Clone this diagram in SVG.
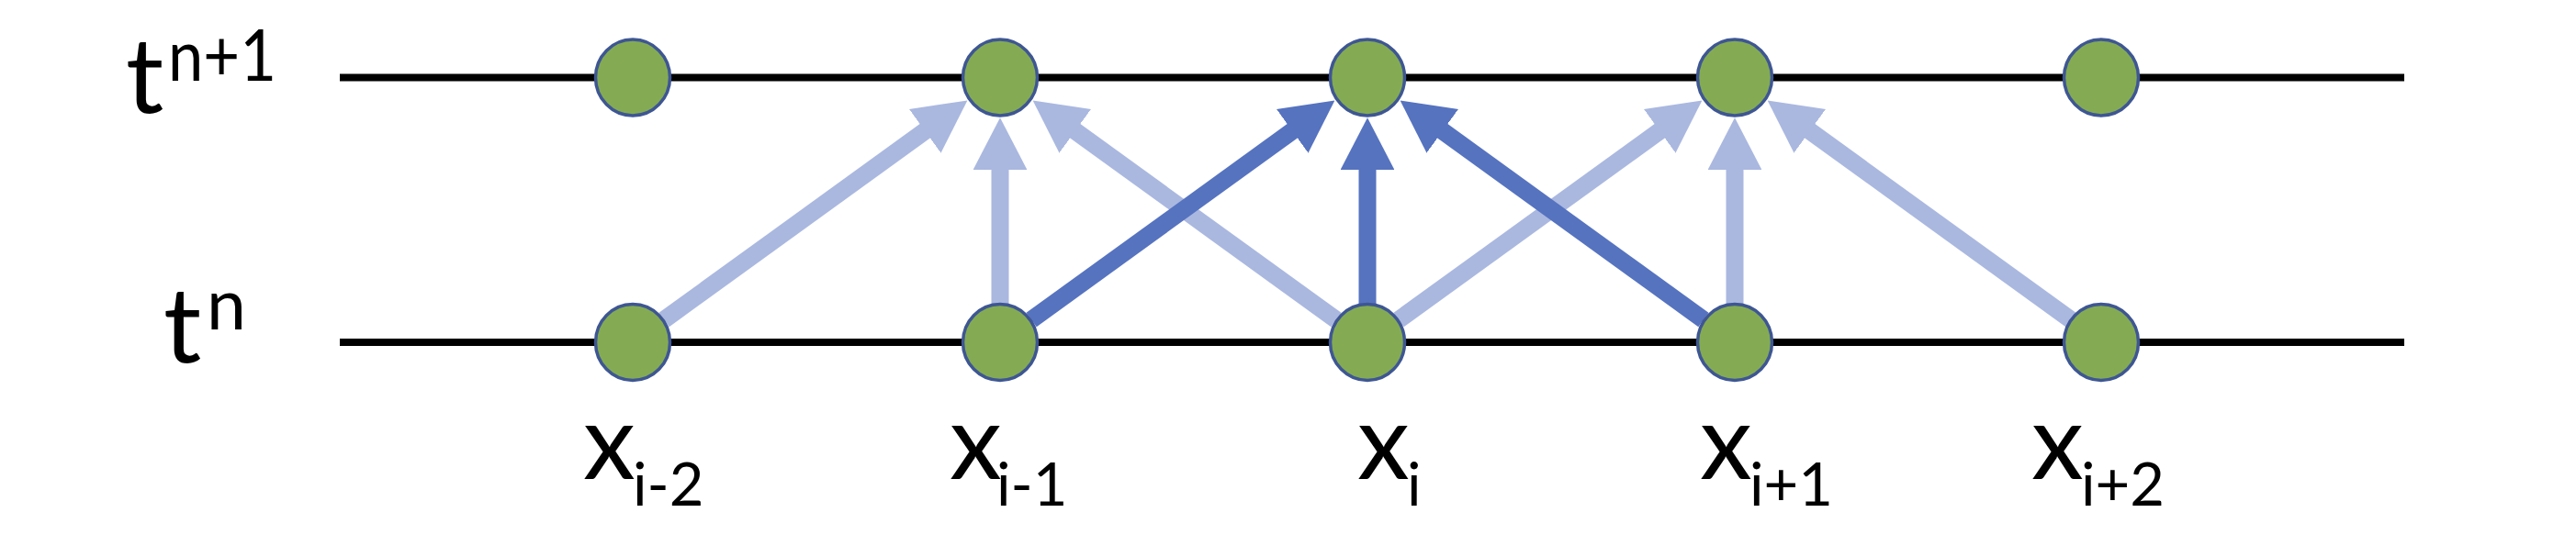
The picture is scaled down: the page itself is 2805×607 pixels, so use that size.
<svg xmlns="http://www.w3.org/2000/svg" width="2805" height="607" viewBox="0 0 2805 607">
<style>
  .axis { stroke: #000; stroke-width: 8; fill: none; }
  .node { fill: #84AB53; stroke: #3E5693; stroke-width: 3.5; }
  .light { stroke: #AAB8E0; stroke-width: 19; fill: none; marker-end: url(#headLight); }
  .dark { stroke: #5673C0; stroke-width: 19; fill: none; marker-end: url(#headDark); }
  .lbl { font-family: Lato, "Liberation Sans", sans-serif; fill: #000; }
  .main { font-size: 114px; }
  .tmain { font-size: 115px; }
  .sup { font-size: 77px; }
  .sub { font-size: 65px; }
</style>
<defs>
  <marker id="headLight" viewBox="0 0 10 10" refX="0.3" refY="5" markerWidth="3" markerHeight="3.1" markerUnits="strokeWidth" orient="auto" preserveAspectRatio="none">
    <path d="M0,0 L10,5 L0,10 Z" fill="#AAB8E0"/>
  </marker>
  <marker id="headDark" viewBox="0 0 10 10" refX="0.3" refY="5" markerWidth="3" markerHeight="3.1" markerUnits="strokeWidth" orient="auto" preserveAspectRatio="none">
    <path d="M0,0 L10,5 L0,10 Z" fill="#5673C0"/>
  </marker>
</defs>

<g id="axes">
  <line class="axis" x1="370" y1="84.5" x2="2618" y2="84.5"/>
  <line class="axis" x1="370" y1="373" x2="2618" y2="373"/>
</g>

<g id="time-labels">
  <text class="lbl" x="137" y="123"><tspan class="tmain">t</tspan><tspan class="sup" x="183" y="88" textLength="118" lengthAdjust="spacingAndGlyphs">n+1</tspan></text>
  <text class="lbl" x="178" y="395"><tspan class="tmain">t</tspan><tspan class="sup" x="225" y="359">n</tspan></text>
</g>

<g id="connectors">
  <line class="light" x1="723.1" y1="348.5" x2="1008.6" y2="141.8"/>
  <line class="light" x1="1089" y1="331" x2="1089" y2="183.5"/>
  <line class="light" x1="1454.9" y1="348.5" x2="1169.4" y2="141.8"/>
  <line class="light" x1="1523.1" y1="348.5" x2="1808.6" y2="141.8"/>
  <line class="light" x1="1889" y1="331" x2="1889" y2="183.5"/>
  <line class="light" x1="2254.9" y1="348.5" x2="1969.4" y2="141.8"/>
  <line class="dark" x1="1123.1" y1="348.5" x2="1408.6" y2="141.8"/>
  <line class="dark" x1="1489" y1="331" x2="1489" y2="183.5"/>
  <line class="dark" x1="1854.9" y1="348.5" x2="1569.4" y2="141.8"/>
</g>

<g id="n-top-im2"><ellipse class="node" cx="689" cy="84.5" rx="40.5" ry="41.5"/></g>
<g id="n-top-im1"><ellipse class="node" cx="1089" cy="84.5" rx="40.5" ry="41.5"/></g>
<g id="n-top-i"><ellipse class="node" cx="1489" cy="84.5" rx="40.5" ry="41.5"/></g>
<g id="n-top-ip1"><ellipse class="node" cx="1889" cy="84.5" rx="40.5" ry="41.5"/></g>
<g id="n-top-ip2"><ellipse class="node" cx="2288" cy="84.5" rx="40.5" ry="41.5"/></g>
<g id="n-bot-im2"><ellipse class="node" cx="689" cy="373" rx="40.5" ry="41.5"/></g>
<g id="n-bot-im1"><ellipse class="node" cx="1089" cy="373" rx="40.5" ry="41.5"/></g>
<g id="n-bot-i"><ellipse class="node" cx="1489" cy="373" rx="40.5" ry="41.5"/></g>
<g id="n-bot-ip1"><ellipse class="node" cx="1889" cy="373" rx="40.5" ry="41.5"/></g>
<g id="n-bot-ip2"><ellipse class="node" cx="2288" cy="373" rx="40.5" ry="41.5"/></g>

<g id="x-labels">
  <text class="lbl" x="635" y="522"><tspan class="main">x</tspan><tspan class="sub" x="689" y="551">i-2</tspan></text>
  <text class="lbl" x="1034" y="522"><tspan class="main">x</tspan><tspan class="sub" x="1085" y="551">i-1</tspan></text>
  <text class="lbl" x="1478" y="522"><tspan class="main">x</tspan><tspan class="sub" x="1532" y="551">i</tspan></text>
  <text class="lbl" x="1851" y="522"><tspan class="main">x</tspan><tspan class="sub" x="1905" y="551">i+1</tspan></text>
  <text class="lbl" x="2212" y="522"><tspan class="main">x</tspan><tspan class="sub" x="2266" y="551">i+2</tspan></text>
</g>
</svg>
